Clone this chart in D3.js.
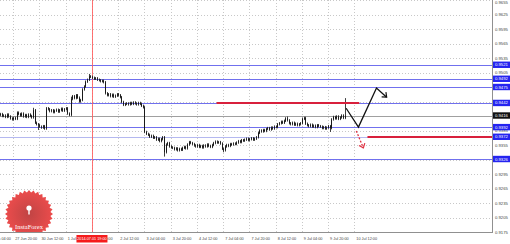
<!DOCTYPE html>
<html><head><meta charset="utf-8">
<script src="https://cdn.jsdelivr.net/npm/d3@7"></script>
<style>
body{margin:0;background:#fff}
svg{display:block}
text{font-family:"Liberation Sans",Arial,sans-serif}
</style>
</head><body><div id="chart"></div>
<script>
// AUD/USD H1, hourly closes from bar index 7 (index 0 = 27 Jun 04:00, weekends skipped)
var firstIndex = 7
var firstOpen = 0.9416
var closes = [
  0.9417,0.9419,0.9415,0.9416,0.9413,0.9418,0.9414,
  0.9410,0.9408,0.9411,0.9409,
  0.9422,
  0.9419,0.9416,0.9420,0.9414,0.9417,0.9413,0.9418,0.9415,0.9412,
  0.9427,
  0.9401,0.9398,
  0.9396,0.9393,0.9391,0.9394,0.9389,
  0.9431,0.9429,
  0.9425,0.9427,0.9423,0.9426,0.9428,0.9424,0.9427,0.9430,0.9426,0.9429,0.9431,
  0.9420,0.9417,
  0.9450,
  0.9456,0.9452,0.9458,0.9453,
  0.9445,0.9448,
  0.9470,0.9476,
  0.9486,0.9490,
  0.9497,0.9496,
  0.9494,0.9492,0.9493,0.9490,0.9489,0.9487,0.9488,0.9485,
  0.9462,
  0.9458,0.9460,0.9456,0.9459,0.9455,0.9457,0.9460,0.9458,0.9454,
  0.9444,0.9438,0.9440,
  0.9441,0.9439,0.9442,0.9440,0.9443,0.9441,0.9439,0.9442,0.9440,0.9436,0.9433,
  0.9382,0.9378,
  0.9376,0.9372,0.9374,0.9370,0.9371,0.9366,0.9368,0.9363,0.9367,0.9371,
  0.9340,
  0.9356,0.9359,0.9352,0.9350,
  0.9349,0.9346,0.9348,0.9344,0.9347,0.9345,0.9349,0.9351,0.9348,
  0.9356,0.9361,0.9359,0.9357,
  0.9354,0.9352,0.9355,0.9351,0.9353,0.9350,0.9354,0.9352,0.9356,0.9353,0.9351,0.9355,
  0.9359,0.9362,0.9360,0.9361,0.9358,
  0.9347,0.9344,
  0.9352,0.9355,0.9353,0.9357,0.9356,0.9358,0.9357,0.9360,
  0.9363,0.9361,0.9365,0.9364,0.9366,0.9368,0.9365,0.9367,0.9369,0.9366,0.9368,0.9371,
  0.9380,0.9385,0.9383,0.9386,0.9384,
  0.9388,0.9390,0.9387,0.9391,0.9389,0.9393,0.9392,
  0.9398,0.9400,0.9403,0.9401,0.9405,0.9410,0.9406,
  0.9400,0.9398,0.9401,0.9397,0.9399,0.9396,0.9398,0.9400,
  0.9409,0.9411,
  0.9399,0.9396,0.9394,0.9397,0.9393,0.9395,0.9392,0.9396,0.9394,
  0.9393,0.9390,0.9392,0.9389,0.9391,0.9394,0.9390,
  0.9408,0.9413,
  0.9410,0.9414,0.9409,0.9412,0.9416,0.9411,
  0.9416
]
// notable wicks, by bar index
var spikeHigh = {28: 0.9432, 51: 0.9455, 62: 0.9502, 183: 0.9414, 218: 0.9452}
var spikeLow = {31: 0.9386, 108: 0.9331, 144: 0.9340, 209: 0.9382}

var priceTicks = [0.9655,0.9625,0.9595,0.9565,0.9535,0.9505,0.9475,0.9445,0.9415,0.9385,0.9355,0.9325,0.9295,0.9265,0.9235,0.9205,0.9175]
var timeTicks = [0,16,32,48,64,80,96,112,128,144,160,176,192,208,224]
var timeLabels = ["27 Jun 04:00","27 Jun 20:00","30 Jun 12:00","1 Jul 04:00","1 Jul 20:00","2 Jul 12:00","3 Jul 04:00","3 Jul 20:00","4 Jul 12:00","7 Jul 04:00","7 Jul 20:00","8 Jul 12:00","9 Jul 04:00","9 Jul 20:00","10 Jul 12:00"]

var levels = [0.9521, 0.9492, 0.9475, 0.9442, 0.9392, 0.9326]
var lightLevels = [0.9372]
var bidPrice = 0.9416
// red resistance / support segments: [from index, to index, price]
var redLevels = [[140, 227, 0.9442], [232, 330, 0.9372]]
var forecast = [[219, 0.9431], [226.5, 0.9392], [237.5, 0.9473], [243.7, 0.9454]]
var altForecast = [[225.2, 0.9384], [229.5, 0.9349]]
var crossIndex = 64
var crossLabel = "2014.07.01 19:00"

var W = 510, H = 244, pw = 492, ph = 232

var svg = d3.select("#chart").append("svg")
  .attr("width", W).attr("height", H)
  .style("background-color", "#fff")

var x = d3.scaleLinear().domain([0, 308]).range([-13, 492.1])
var y = d3.scaleLinear().domain([0.9175, 0.9655]).range([ph, 0])

svg.append("clipPath").attr("id", "plot")
  .append("rect").attr("width", pw).attr("height", ph)

var plot = svg.append("g").attr("clip-path", "url(#plot)")

// grid
plot.selectAll(".vg").data(timeTicks).enter().append("line")
  .attr("x1", function(d){ return Math.round(x(d)) + 0.5 })
  .attr("x2", function(d){ return Math.round(x(d)) + 0.5 })
  .attr("y1", 0).attr("y2", ph)
  .style("stroke", "#c8c8c8").style("stroke-dasharray", "1,2")
plot.selectAll(".hg").data(priceTicks).enter().append("line")
  .attr("x1", 0).attr("x2", pw)
  .attr("y1", function(d){ return Math.round(y(d)) + 0.5 })
  .attr("y2", function(d){ return Math.round(y(d)) + 0.5 })
  .style("stroke", "#c8c8c8").style("stroke-dasharray", "1,2")

// logo
var logo = plot.append("g").attr("transform", "translate(29,214)")
var grad = svg.append("defs").append("radialGradient").attr("id", "seal")
grad.append("stop").attr("offset", "0%").attr("stop-color", "#c04444")
grad.append("stop").attr("offset", "100%").attr("stop-color", "#ec4c4c")
var teeth = d3.range(0, 64)
logo.append("path")
  .attr("d", d3.lineRadial().curve(d3.curveLinearClosed)
    .angle(function(d){ return d / 64 * 2 * Math.PI })
    .radius(function(d){ return d % 2 ? 21.5 : 24 })(teeth))
  .style("fill", "url(#seal)")
logo.append("circle").attr("cy", -6).attr("r", 2.6).style("fill", "#fff")
logo.append("rect").attr("x", -0.7).attr("y", -4).attr("width", 1.4).attr("height", 4.5).style("fill", "#fff")
logo.append("text").attr("y", 15).attr("text-anchor", "middle")
  .style("font-family", "'Liberation Serif',serif").style("font-size", "6.5px").style("fill", "#fff")
  .text("InstaForex")

// levels
plot.selectAll(".lv").data(levels).enter().append("line")
  .attr("x1", 0).attr("x2", pw)
  .attr("y1", function(d){ return Math.round(y(d)) + 0.5 })
  .attr("y2", function(d){ return Math.round(y(d)) + 0.5 })
  .style("stroke", "#7070ee")
plot.selectAll(".ll").data(lightLevels).enter().append("line")
  .attr("x1", 0).attr("x2", pw)
  .attr("y1", function(d){ return Math.round(y(d)) + 0.5 })
  .attr("y2", function(d){ return Math.round(y(d)) + 0.5 })
  .style("stroke", "#b4b8f0")
plot.append("line").attr("x1", 0).attr("x2", pw)
  .attr("y1", Math.round(y(bidPrice)) + 0.5).attr("y2", Math.round(y(bidPrice)) + 0.5)
  .style("stroke", "#a0a0a0")

// crosshair
plot.append("line")
  .attr("x1", Math.round(x(crossIndex)) + 0.5).attr("x2", Math.round(x(crossIndex)) + 0.5)
  .attr("y1", 0).attr("y2", ph)
  .style("stroke", "#ff5a5a").style("stroke-opacity", 0.85)

// candles
var bars = closes.map(function(c, j){
  var i = firstIndex + j
  var o = j == 0 ? firstOpen : closes[j-1]
  return {i: i, o: o, c: c,
    h: spikeHigh[i] || Math.max(o, c) + 0.00025,
    l: spikeLow[i] || Math.min(o, c) - 0.00025}
})
var cg = plot.append("g")
cg.selectAll("line").data(bars).enter().append("line")
  .attr("x1", function(d){ return Math.round(x(d.i)) + 0.5 })
  .attr("x2", function(d){ return Math.round(x(d.i)) + 0.5 })
  .attr("y1", function(d){ return y(d.h) })
  .attr("y2", function(d){ return y(d.l) })
  .style("stroke", "#2a2a2a").style("stroke-width", 0.9)
cg.selectAll("rect").data(bars).enter().append("rect")
  .attr("x", function(d){ return Math.round(x(d.i)) })
  .attr("y", function(d){ return y(Math.max(d.o, d.c)) })
  .attr("width", 1)
  .attr("height", function(d){ return Math.max(0.8, Math.abs(y(d.o) - y(d.c))) })
  .style("fill", "#1a1a1a")

// red segments
plot.selectAll(".rl").data(redLevels).enter().append("line")
  .attr("x1", function(d){ return x(d[0]) })
  .attr("x2", function(d){ return x(d[1]) })
  .attr("y1", function(d){ return Math.round(y(d[2])) })
  .attr("y2", function(d){ return Math.round(y(d[2])) })
  .style("stroke", "#d8203c").style("stroke-width", 2)

function arrow(pts, color, dash){
  var line = d3.line().x(function(d){ return x(d[0]) }).y(function(d){ return y(d[1]) })
  plot.append("path").attr("d", line(pts))
    .style("fill", "none").style("stroke", color).style("stroke-width", 1.3)
    .style("stroke-dasharray", dash)
  var a = pts[pts.length-2], b = pts[pts.length-1]
  var ex = x(b[0]), ey = y(b[1])
  var ang = Math.atan2(ey - y(a[1]), ex - x(a[0]))
  var head = [ang + Math.PI * 0.78, ang - Math.PI * 0.78].map(function(t){
    return [ex + 5 * Math.cos(t), ey + 5 * Math.sin(t)]
  })
  plot.append("path")
    .attr("d", "M" + head[0] + "L" + [ex, ey] + "L" + head[1])
    .style("fill", "none").style("stroke", color).style("stroke-width", 1.2)
}
arrow(forecast, "#111", null)
arrow(altForecast, "#e03040", "2,1.5")

// axes frame
svg.append("line").attr("x1", pw + 0.5).attr("x2", pw + 0.5).attr("y1", 0).attr("y2", ph + 1)
  .style("stroke", "#909090")
svg.append("line").attr("x1", 0).attr("x2", pw + 1).attr("y1", ph + 0.5).attr("y2", ph + 0.5)
  .style("stroke", "#909090")

// price axis
svg.selectAll(".pt").data(priceTicks).enter().append("text")
  .attr("x", 495).attr("y", function(d){ return Math.max(3.5, y(d) + 1.5) })
  .style("font-size", "4.2px").style("fill", "#444")
  .text(function(d){ return d.toFixed(4) })

function tag(p, fill){
  var g = svg.append("g").attr("transform", "translate(493," + y(p) + ")")
  g.append("rect").attr("y", -3.2).attr("width", 17).attr("height", 6.4).style("fill", fill)
  g.append("text").attr("x", 2).attr("y", 1.5)
    .style("font-size", "4.2px").style("fill", "#fff").text(p.toFixed(4))
}
levels.concat(lightLevels).forEach(function(p){ tag(p, "#2424f0") })
tag(bidPrice, "#111")

// time axis
svg.selectAll(".tt").data(timeTicks).enter().append("text")
  .attr("x", function(d){ return x(d) + 2 }).attr("y", 240)
  .style("font-size", "3.8px").style("fill", "#444")
  .text(function(d, i){ return timeLabels[i] })

var cx = x(crossIndex)
svg.append("rect").attr("x", cx - 15.5).attr("y", 235).attr("width", 31).attr("height", 7.5)
  .style("fill", "#f51c1c")
svg.append("text").attr("x", cx).attr("y", 240).attr("text-anchor", "middle")
  .style("font-size", "3.8px").style("fill", "#fff").text(crossLabel)
</script>
</body></html>
